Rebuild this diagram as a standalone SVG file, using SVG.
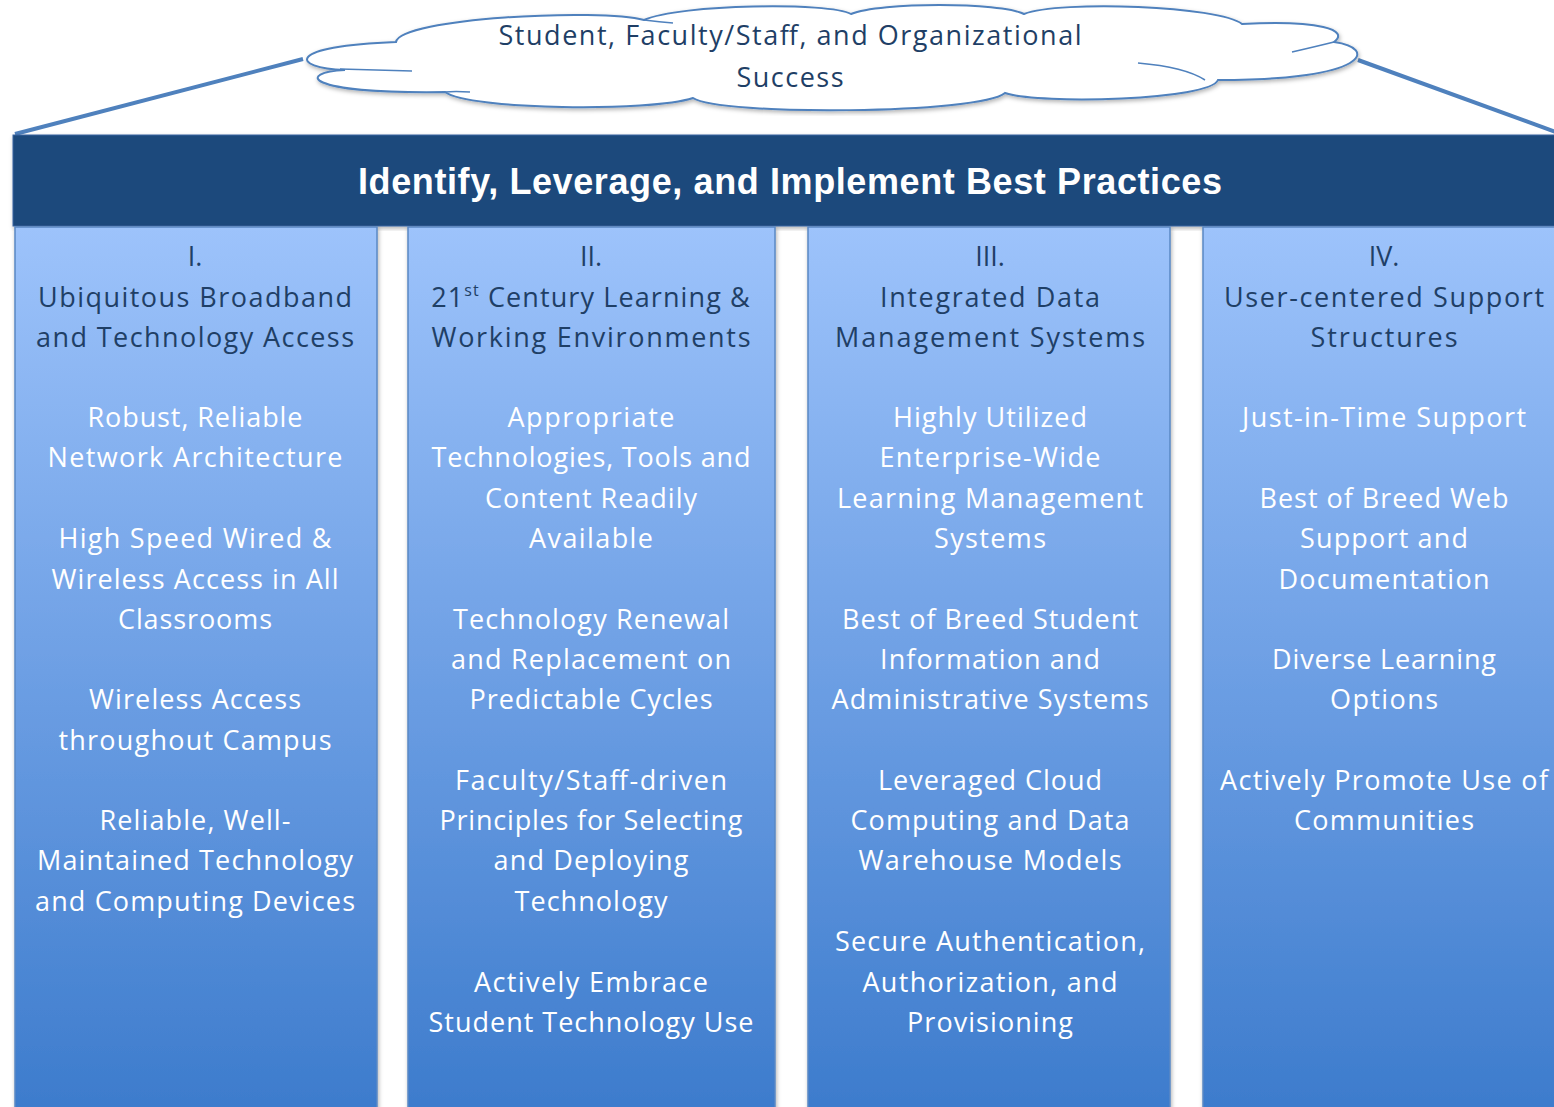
<svg xmlns="http://www.w3.org/2000/svg" width="1554" height="1107" viewBox="0 0 1554 1107">
<defs>
<linearGradient id="colg" x1="0" y1="0" x2="0" y2="1">
<stop offset="0" stop-color="#9dc3fb"/>
<stop offset="0.5" stop-color="#6d9fe4"/>
<stop offset="1" stop-color="#3c7bcc"/>
</linearGradient>
<filter id="sh" x="-5%" y="-5%" width="110%" height="110%">
<feDropShadow dx="1" dy="2" stdDeviation="2" flood-color="#000" flood-opacity="0.3"/>
</filter>
<style>
.col{fill:url(#colg);stroke:#5a88c4;stroke-width:1.5;filter:url(#sh)}
.t{font-family:"Open Sans","Liberation Sans",Arial,sans-serif;font-size:27px;text-anchor:middle}
.h{fill:#1f3f66}
.w{fill:#ffffff}
.roof{fill:none;stroke:#4f81bd;stroke-width:4}
.cloud{fill:#ffffff;stroke:#4f81bd;stroke-width:2}
.inner{fill:none;stroke:#4f81bd;stroke-width:1.5}
</style>
</defs>
<rect width="1554" height="1107" fill="#ffffff"/>
<g id="connectors">
<line class="roof" x1="15" y1="134" x2="303" y2="59"/>
<line class="roof" x1="1358" y1="60" x2="1556" y2="132"/>
</g>
<g id="cloud">
<path class="cloud" filter="url(#sh)" d="M 345 70 C 290 68 285 46 396 42 C 400 18 600 8 644 20 C 680 4 830 2 851 14 C 880 2 1000 2 1024 14 C 1060 0 1220 6 1242 24 C 1320 20 1350 30 1334 42 C 1378 48 1370 80 1218 80 C 1210 100 1040 105 1005 93 C 980 114 720 116 693 98 C 650 112 470 110 445 92 C 300 94 298 72 345 70 Z"/>
<path class="inner" d="M 340 69 Q 380 70 412 71"/>
<path class="inner" d="M 445 92 Q 455 91 470 92"/>
<path class="inner" d="M 644 20 Q 660 22 673 23"/>
<path class="inner" d="M 1138 63 Q 1185 67 1205 80"/>
<path class="inner" d="M 1292 52 Q 1318 46 1334 42"/>
<text class="t" x="790" y="45" font-size="25" fill="#1f3f66" textLength="583">Student, Faculty/Staff, and Organizational</text>
<text class="t" x="790" y="87" font-size="25" fill="#1f3f66" textLength="107">Success</text>
</g>
<g id="header">
<rect x="13" y="135" width="1545" height="91" fill="#1f487c" stroke="#3a64a0" stroke-width="1" filter="url(#sh)"/>
<text x="790" y="194" font-family="'Liberation Sans',Arial,sans-serif" font-size="36" font-weight="bold" fill="#ffffff" text-anchor="middle" textLength="864">Identify, Leverage, and Implement Best Practices</text>
</g>
<g id="col1">
<rect class="col" x="15" y="227" width="362" height="890"/>
<text class="t h" x="195" y="266">I.</text>
<text class="t h" x="195" y="307" textLength="314">Ubiquitous Broadband</text>
<text class="t h" x="195" y="347" textLength="318">and Technology Access</text>
<text class="t w" x="195" y="427" textLength="215">Robust, Reliable</text>
<text class="t w" x="195" y="467" textLength="295">Network Architecture</text>
<text class="t w" x="195" y="548" textLength="273">High Speed Wired &amp;</text>
<text class="t w" x="195" y="589" textLength="287">Wireless Access in All</text>
<text class="t w" x="195" y="629" textLength="154">Classrooms</text>
<text class="t w" x="195" y="709" textLength="212">Wireless Access</text>
<text class="t w" x="195" y="750" textLength="273">throughout Campus</text>
<text class="t w" x="195" y="830" textLength="191">Reliable, Well-</text>
<text class="t w" x="195" y="870" textLength="316">Maintained Technology</text>
<text class="t w" x="195" y="911" textLength="320">and Computing Devices</text>
</g>
<g id="col2">
<rect class="col" x="408" y="227" width="367" height="890"/>
<text class="t h" x="591" y="266">II.</text>
<text class="t h" x="591" y="307" letter-spacing="1.1">21<tspan font-size="16" dy="-11">st</tspan><tspan dy="11"> Century Learning &amp;</tspan></text>
<text class="t h" x="591" y="347" textLength="319">Working Environments</text>
<text class="t w" x="591" y="427" textLength="167">Appropriate</text>
<text class="t w" x="591" y="467" textLength="319">Technologies, Tools and</text>
<text class="t w" x="591" y="508" textLength="212">Content Readily</text>
<text class="t w" x="591" y="548" textLength="124">Available</text>
<text class="t w" x="591" y="629" textLength="276">Technology Renewal</text>
<text class="t w" x="591" y="669" textLength="280">and Replacement on</text>
<text class="t w" x="591" y="709" textLength="243">Predictable Cycles</text>
<text class="t w" x="591" y="790" textLength="272">Faculty/Staff-driven</text>
<text class="t w" x="591" y="830" textLength="303">Principles for Selecting</text>
<text class="t w" x="591" y="870" textLength="195">and Deploying</text>
<text class="t w" x="591" y="911" textLength="153">Technology</text>
<text class="t w" x="591" y="992" textLength="234">Actively Embrace</text>
<text class="t w" x="591" y="1032" textLength="325">Student Technology Use</text>
</g>
<g id="col3">
<rect class="col" x="808" y="227" width="362" height="890"/>
<text class="t h" x="990" y="266">III.</text>
<text class="t h" x="990" y="307" textLength="220">Integrated Data</text>
<text class="t h" x="990" y="347" textLength="310">Management Systems</text>
<text class="t w" x="990" y="427" textLength="194">Highly Utilized</text>
<text class="t w" x="990" y="467" textLength="221">Enterprise-Wide</text>
<text class="t w" x="990" y="508" textLength="306">Learning Management</text>
<text class="t w" x="990" y="548" textLength="112">Systems</text>
<text class="t w" x="990" y="629" textLength="296">Best of Breed Student</text>
<text class="t w" x="990" y="669" textLength="220">Information and</text>
<text class="t w" x="990" y="709" textLength="317">Administrative Systems</text>
<text class="t w" x="990" y="790" textLength="224">Leveraged Cloud</text>
<text class="t w" x="990" y="830" textLength="279">Computing and Data</text>
<text class="t w" x="990" y="870" textLength="263">Warehouse Models</text>
<text class="t w" x="990" y="951" textLength="310">Secure Authentication,</text>
<text class="t w" x="990" y="992" textLength="255">Authorization, and</text>
<text class="t w" x="990" y="1032" textLength="166">Provisioning</text>
</g>
<g id="col4">
<rect class="col" x="1203" y="227" width="362" height="890"/>
<text class="t h" x="1384" y="266">IV.</text>
<text class="t h" x="1384" y="307" textLength="320">User-centered Support</text>
<text class="t h" x="1384" y="347" textLength="147">Structures</text>
<text class="t w" x="1384" y="427" textLength="284">Just-in-Time Support</text>
<text class="t w" x="1384" y="508" textLength="249">Best of Breed Web</text>
<text class="t w" x="1384" y="548" textLength="168">Support and</text>
<text class="t w" x="1384" y="589" textLength="211">Documentation</text>
<text class="t w" x="1384" y="669" textLength="224">Diverse Learning</text>
<text class="t w" x="1384" y="709" textLength="108">Options</text>
<text class="t w" x="1384" y="790" textLength="328">Actively Promote Use of</text>
<text class="t w" x="1384" y="830" textLength="180">Communities</text>
</g>
</svg>
